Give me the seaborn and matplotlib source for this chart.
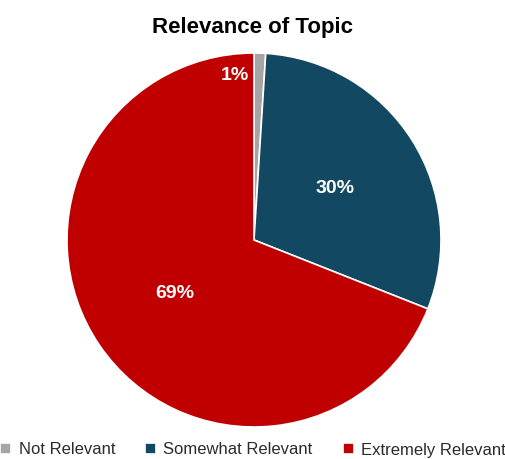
import numpy as np
import matplotlib
matplotlib.use("Agg")
import matplotlib.pyplot as plt
import seaborn as sns

sns.set_theme(style="white")
plt.rcParams['font.family'] = ['Liberation Sans', 'DejaVu Sans']

categories = ["Not Relevant", "Somewhat Relevant", "Extremely Relevant"]
values = [1, 30, 69]
colors = ["#A5A5A5", "#134862", "#C00000"]

fig = plt.figure(figsize=(5.06, 4.59), dpi=100)
ax = fig.add_axes([67 / 506, (459 - 427) / 459, 374 / 506, 374 / 459])

wedges, texts, autotexts = ax.pie(
    values, colors=colors, startangle=90, counterclock=False,
    autopct=lambda p: f"{p:.0f}%", pctdistance=0.51,
    wedgeprops=dict(edgecolor="white", linewidth=1.2),
    textprops=dict(color="white", fontsize=14, fontweight="bold"),
)
# the small slice label sits just left of its wedge, near the rim
ang = np.deg2rad(90 + 6.5)
autotexts[0].set_position((0.885 * np.cos(ang), 0.885 * np.sin(ang)))

ax.set_xlim(-1, 1)
ax.set_ylim(-1, 1)
ax.set_aspect("equal")

fig.text(0.5, 1 - 27 / 459, "Relevance of Topic", ha="center", va="center",
         fontsize=16, fontweight="bold", color="black")

fig.legend(wedges, categories, loc="center", bbox_to_anchor=(0.5, 1 - 450 / 459),
           ncol=3, frameon=False, fontsize=12, handlelength=0.65, handleheight=0.65,
           handletextpad=0.45, columnspacing=1.8, labelcolor="#2b2b2b")

fig.savefig("out.png", dpi=100)
